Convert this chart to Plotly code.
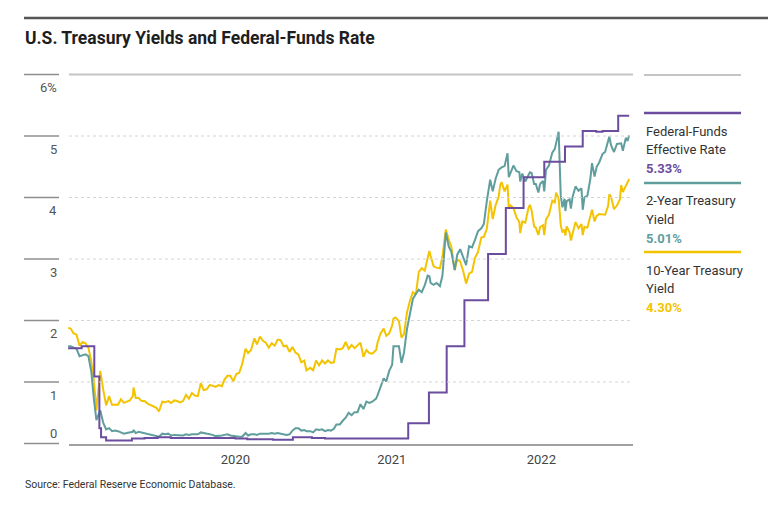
import plotly.graph_objects as go

# ---------------- data ----------------
dates = [
    # 2020
    "2020-01-02", "2020-01-08", "2020-01-15", "2020-01-22", "2020-01-29", "2020-02-05", "2020-02-12", "2020-02-19",
    "2020-02-26", "2020-03-03", "2020-03-09", "2020-03-18", "2020-03-25", "2020-04-01", "2020-04-08", "2020-04-15",
    "2020-04-22", "2020-04-29", "2020-05-06", "2020-05-13", "2020-05-20", "2020-05-27", "2020-06-03", "2020-06-05",
    "2020-06-10", "2020-06-17", "2020-06-24", "2020-07-01", "2020-07-08", "2020-07-15", "2020-07-22", "2020-07-29",
    "2020-08-04", "2020-08-12", "2020-08-19", "2020-08-26", "2020-09-02", "2020-09-09", "2020-09-16", "2020-09-23",
    "2020-09-30", "2020-10-07", "2020-10-14", "2020-10-21", "2020-10-28", "2020-11-04", "2020-11-11", "2020-11-18",
    "2020-11-25", "2020-12-02", "2020-12-09", "2020-12-16", "2020-12-23", "2020-12-31",
    # 2021
    "2021-01-06", "2021-01-13", "2021-01-20", "2021-01-27", "2021-02-03", "2021-02-10", "2021-02-17", "2021-02-25",
    "2021-03-03", "2021-03-10", "2021-03-18", "2021-03-24", "2021-03-31", "2021-04-07", "2021-04-14", "2021-04-21",
    "2021-04-28", "2021-05-05", "2021-05-12", "2021-05-19", "2021-05-26", "2021-06-02", "2021-06-09", "2021-06-16",
    "2021-06-23", "2021-06-30", "2021-07-07", "2021-07-14", "2021-07-19", "2021-07-28", "2021-08-04", "2021-08-11",
    "2021-08-18", "2021-08-25", "2021-09-01", "2021-09-08", "2021-09-15", "2021-09-22", "2021-09-28", "2021-10-06",
    "2021-10-13", "2021-10-20", "2021-10-27", "2021-11-03", "2021-11-10", "2021-11-17", "2021-11-24", "2021-12-01",
    "2021-12-08", "2021-12-15", "2021-12-22", "2021-12-31",
    # 2022
    "2022-01-03", "2022-01-10", "2022-01-18", "2022-01-24", "2022-01-31", "2022-02-07", "2022-02-10", "2022-02-15",
    "2022-02-23", "2022-03-01", "2022-03-07", "2022-03-14", "2022-03-21", "2022-03-28", "2022-04-04", "2022-04-11",
    "2022-04-18", "2022-04-25", "2022-05-02", "2022-05-06", "2022-05-09", "2022-05-16", "2022-05-23", "2022-05-31",
    "2022-06-06", "2022-06-14", "2022-06-21", "2022-06-27", "2022-07-05", "2022-07-11", "2022-07-18", "2022-07-25",
    "2022-08-01", "2022-08-08", "2022-08-15", "2022-08-22", "2022-08-29", "2022-09-06", "2022-09-12", "2022-09-19",
    "2022-09-27", "2022-10-03", "2022-10-10", "2022-10-17", "2022-10-21", "2022-10-24", "2022-10-31", "2022-11-07",
    "2022-11-10", "2022-11-14", "2022-11-21", "2022-11-28", "2022-12-05", "2022-12-07", "2022-12-12", "2022-12-19",
    "2022-12-27", "2022-12-30",
    # 2023
    "2023-01-03", "2023-01-09", "2023-01-13", "2023-01-19", "2023-01-23", "2023-01-30", "2023-02-02", "2023-02-06",
    "2023-02-13", "2023-02-21", "2023-02-27", "2023-03-02", "2023-03-08", "2023-03-13", "2023-03-17", "2023-03-22",
    "2023-03-24", "2023-03-27", "2023-04-03", "2023-04-06", "2023-04-10", "2023-04-17", "2023-04-24", "2023-05-01",
    "2023-05-04", "2023-05-08", "2023-05-15", "2023-05-22", "2023-05-26", "2023-06-01", "2023-06-06", "2023-06-12",
    "2023-06-20", "2023-06-26", "2023-07-03", "2023-07-06", "2023-07-10", "2023-07-17", "2023-07-24", "2023-07-31",
    "2023-08-03", "2023-08-07", "2023-08-14", "2023-08-18", "2023-08-22",
]

ten_year = [
    # 2020
    1.88, 1.87, 1.79, 1.77, 1.59, 1.65, 1.63, 1.56, 1.33, 1.02, 0.54, 1.18, 0.88, 0.62, 0.77, 0.63,
    0.63, 0.63, 0.72, 0.66, 0.68, 0.70, 0.77, 0.91, 0.74, 0.74, 0.69, 0.69, 0.65, 0.63, 0.61, 0.58,
    0.52, 0.68, 0.67, 0.69, 0.66, 0.70, 0.69, 0.67, 0.69, 0.79, 0.73, 0.82, 0.78, 0.77, 0.98, 0.87,
    0.88, 0.95, 0.94, 0.92, 0.95, 0.93,
    # 2021
    1.04, 1.10, 1.10, 1.01, 1.13, 1.15, 1.29, 1.54, 1.47, 1.52, 1.71, 1.61, 1.74, 1.67, 1.64, 1.56,
    1.63, 1.59, 1.69, 1.68, 1.58, 1.59, 1.49, 1.57, 1.48, 1.45, 1.32, 1.35, 1.19, 1.23, 1.19, 1.35,
    1.27, 1.35, 1.30, 1.35, 1.31, 1.32, 1.54, 1.53, 1.55, 1.65, 1.54, 1.60, 1.55, 1.60, 1.64, 1.41,
    1.52, 1.47, 1.46, 1.52,
    # 2022
    1.63, 1.78, 1.87, 1.75, 1.79, 1.92, 2.03, 2.05, 1.99, 1.72, 1.78, 2.13, 2.32, 2.46, 2.42, 2.79,
    2.85, 2.81, 2.99, 3.13, 3.05, 2.88, 2.86, 2.85, 3.04, 3.48, 3.31, 3.20, 2.82, 2.99, 2.96, 2.81,
    2.60, 2.76, 2.79, 3.02, 3.11, 3.35, 3.36, 3.49, 3.95, 3.65, 3.88, 4.01, 4.21, 4.25, 4.10, 4.21,
    3.82, 3.87, 3.83, 3.68, 3.60, 3.42, 3.61, 3.59, 3.84, 3.88,
    # 2023
    3.79, 3.53, 3.51, 3.39, 3.52, 3.55, 3.39, 3.64, 3.72, 3.95, 3.92, 4.08, 3.98, 3.55, 3.43, 3.48,
    3.38, 3.53, 3.43, 3.30, 3.41, 3.60, 3.50, 3.57, 3.39, 3.52, 3.51, 3.72, 3.80, 3.61, 3.70, 3.73,
    3.72, 3.72, 3.86, 4.05, 4.01, 3.81, 3.87, 3.97, 4.20, 4.09, 4.19, 4.26, 4.30,
]

two_year = [
    # 2020
    1.58, 1.58, 1.56, 1.54, 1.42, 1.44, 1.45, 1.42, 1.16, 0.72, 0.38, 0.54, 0.34, 0.23, 0.25, 0.20,
    0.21, 0.20, 0.18, 0.16, 0.17, 0.18, 0.19, 0.22, 0.17, 0.19, 0.18, 0.16, 0.15, 0.15, 0.14, 0.13,
    0.11, 0.16, 0.15, 0.16, 0.13, 0.14, 0.14, 0.14, 0.13, 0.15, 0.14, 0.15, 0.15, 0.15, 0.18, 0.17,
    0.16, 0.16, 0.14, 0.12, 0.12, 0.13,
    # 2021
    0.14, 0.15, 0.13, 0.12, 0.11, 0.11, 0.11, 0.17, 0.13, 0.15, 0.15, 0.14, 0.16, 0.16, 0.15, 0.16,
    0.17, 0.16, 0.17, 0.16, 0.14, 0.14, 0.15, 0.21, 0.25, 0.25, 0.21, 0.22, 0.20, 0.20, 0.18, 0.23,
    0.22, 0.23, 0.20, 0.22, 0.21, 0.24, 0.31, 0.31, 0.37, 0.42, 0.50, 0.46, 0.51, 0.51, 0.64, 0.56,
    0.68, 0.66, 0.68, 0.73,
    # 2022
    0.78, 0.90, 1.06, 1.01, 1.18, 1.28, 1.58, 1.58, 1.58, 1.31, 1.48, 1.86, 2.13, 2.35, 2.43, 2.50,
    2.46, 2.57, 2.73, 2.72, 2.61, 2.58, 2.61, 2.56, 2.73, 3.43, 3.20, 3.12, 2.82, 3.07, 3.16, 3.03,
    2.90, 3.21, 3.19, 3.31, 3.45, 3.50, 3.57, 3.94, 4.29, 4.10, 4.31, 4.45, 4.48, 4.49, 4.51, 4.72,
    4.33, 4.40, 4.52, 4.43, 4.41, 4.26, 4.39, 4.26, 4.38, 4.41,
    # 2023
    4.40, 4.22, 4.22, 4.08, 4.22, 4.27, 4.10, 4.45, 4.52, 4.73, 4.79, 4.89, 5.07, 4.03, 3.84, 3.98,
    3.78, 3.94, 3.97, 3.82, 4.01, 4.18, 4.11, 4.15, 3.80, 4.00, 4.03, 4.30, 4.56, 4.34, 4.50, 4.57,
    4.71, 4.74, 4.94, 4.99, 4.85, 4.74, 4.87, 4.88, 4.88, 4.76, 4.97, 4.92, 5.01,
]

ff_dates = [
    "2020-01-02", "2020-02-03", "2020-03-04", "2020-03-16", "2020-03-20", "2020-04-01", "2020-06-01",
    "2020-07-01", "2020-08-01", "2020-09-01", "2021-02-01", "2021-03-01", "2021-05-01", "2021-06-17",
    "2021-08-01", "2021-09-01", "2022-03-17", "2022-05-05", "2022-06-16", "2022-07-28", "2022-09-22",
    "2022-11-03", "2022-12-15", "2023-02-02", "2023-03-23", "2023-05-04", "2023-06-05", "2023-06-20",
    "2023-07-27", "2023-08-22",
]
fed_funds = [
    1.55, 1.58, 1.09, 0.25, 0.10, 0.05, 0.08,
    0.09, 0.10, 0.09, 0.08, 0.07, 0.06, 0.10,
    0.09, 0.08, 0.33, 0.83, 1.58, 2.33, 3.08,
    3.83, 4.33, 4.58, 4.83, 5.08, 5.07, 5.08,
    5.33, 5.33,
]

y_ticks = [0, 1, 2, 3, 4, 5, 6]
y_tick_text = ["0", "1", "2", "3", "4", "5", "6%"]
x_tick_vals = ["2021-02-01", "2022-02-06", "2023-01-26"]
x_tick_text = ["2020", "2021", "2022"]

series_names = ["Federal-Funds Effective Rate", "2-Year Treasury Yield", "10-Year Treasury Yield"]
legend_lines = [["Federal-Funds", "Effective Rate"], ["2-Year Treasury", "Yield"], ["10-Year Treasury", "Yield"]]
legend_values = ["5.33%", "5.01%", "4.30%"]

# ---------------- style ----------------
PURPLE = "#6b4c9e"
TEAL = "#5f9e9c"
YELLOW = "#f4c300"
FONT = "Roboto, Liberation Sans, Arial, sans-serif"

W_FIG, H_FIG = 768, 507
L, R, T, B = 66, 633, 70, 450
PW, PH = R - L, B - T


def px_x(px):
    return (px - L) / PW


def px_y(py):
    return (B - py) / PH


fig = go.Figure()
fig.add_trace(go.Scatter(x=dates, y=ten_year, mode="lines", name=series_names[2],
                         line=dict(color=YELLOW, width=2)))
fig.add_trace(go.Scatter(x=dates, y=two_year, mode="lines", name=series_names[1],
                         line=dict(color=TEAL, width=2)))
fig.add_trace(go.Scatter(x=ff_dates, y=fed_funds, mode="lines", name=series_names[0],
                         line=dict(color=PURPLE, width=2, shape="hv")))

shapes = []
annotations = []

# title rule
shapes.append(dict(type="line", xref="paper", yref="paper", x0=px_x(24), x1=px_x(768),
                   y0=px_y(18), y1=px_y(18), line=dict(color="#555555", width=2.5)))

# horizontal grid / tick rules
for v, txt in zip(y_ticks, y_tick_text):
    shapes.append(dict(type="line", xref="paper", yref="y", x0=px_x(24), x1=px_x(59), y0=v, y1=v,
                       line=dict(color="#8f8f8f", width=1.5)))
    if v == 6:
        shapes.append(dict(type="line", xref="paper", yref="y", x0=px_x(69), x1=1, y0=v, y1=v,
                           line=dict(color="#c4c4c4", width=2)))
    elif v != 0:
        shapes.append(dict(type="line", xref="paper", yref="y", x0=px_x(69), x1=1, y0=v, y1=v,
                           line=dict(color="#d4d4d4", width=1, dash="dot")))
    annotations.append(dict(xref="paper", yref="y", x=px_x(59), y=v, text=txt, showarrow=False,
                            xanchor="right", yanchor="middle", yshift=(10 if v == 0 else -13),
                            font=dict(family=FONT, size=13, color="#555555")))

# baseline
shapes.append(dict(type="line", xref="paper", yref="paper", x0=px_x(69), x1=1,
                   y0=px_y(445), y1=px_y(445), line=dict(color="#a0a0a0", width=2)))

# legend block
shapes.append(dict(type="line", xref="paper", yref="paper", x0=px_x(644), x1=px_x(741),
                   y0=px_y(75), y1=px_y(75), line=dict(color="#c4c4c4", width=2)))
legend_colors = [PURPLE, TEAL, YELLOW]
legend_rule_y = [113, 183, 252]
for i in range(3):
    ry = legend_rule_y[i]
    shapes.append(dict(type="line", xref="paper", yref="paper", x0=px_x(644), x1=px_x(741),
                       y0=px_y(ry), y1=px_y(ry), line=dict(color=legend_colors[i], width=2.5)))
    for j, line_txt in enumerate(legend_lines[i]):
        annotations.append(dict(xref="paper", yref="paper", x=px_x(644), y=px_y(ry + 18 + 18.5 * j),
                                text=line_txt, showarrow=False, xanchor="left", yanchor="middle",
                                font=dict(family=FONT, size=13, color="#333333")))
    annotations.append(dict(xref="paper", yref="paper", x=px_x(644), y=px_y(ry + 18 + 18.5 * 2),
                            text="<b>" + legend_values[i] + "</b>", showarrow=False,
                            xanchor="left", yanchor="middle",
                            font=dict(family=FONT, size=13, color=legend_colors[i])))

# title and source
annotations.append(dict(xref="paper", yref="paper", x=px_x(23), y=px_y(38),
                        text="<b>U.S. Treasury Yields and Federal-Funds Rate</b>", showarrow=False,
                        xanchor="left", yanchor="middle",
                        font=dict(family=FONT, size=17.5, color="#1e1e1e")))
annotations.append(dict(xref="paper", yref="paper", x=px_x(23), y=px_y(484),
                        text="Source: Federal Reserve Economic Database.", showarrow=False,
                        xanchor="left", yanchor="middle",
                        font=dict(family=FONT, size=10.5, color="#333333")))

fig.update_layout(
    width=W_FIG, height=H_FIG,
    margin=dict(l=L, r=W_FIG - R, t=T, b=H_FIG - B, pad=0),
    paper_bgcolor="white", plot_bgcolor="white",
    showlegend=False,
    shapes=shapes, annotations=annotations,
    xaxis=dict(type="date", range=["2019-12-28", "2023-08-31"], showgrid=False, zeroline=False,
               showline=False, ticks="", tickvals=x_tick_vals, ticktext=x_tick_text,
               tickfont=dict(family=FONT, size=13, color="#444444")),
    yaxis=dict(range=[(443.5 - 450) / 61.5, (443.5 - 70) / 61.5], showgrid=False, zeroline=False,
               showline=False, showticklabels=False, ticks=""),
)

fig.write_html("out.html", config={"displayModeBar": False},
               post_script="document.body.style.margin='0';")
